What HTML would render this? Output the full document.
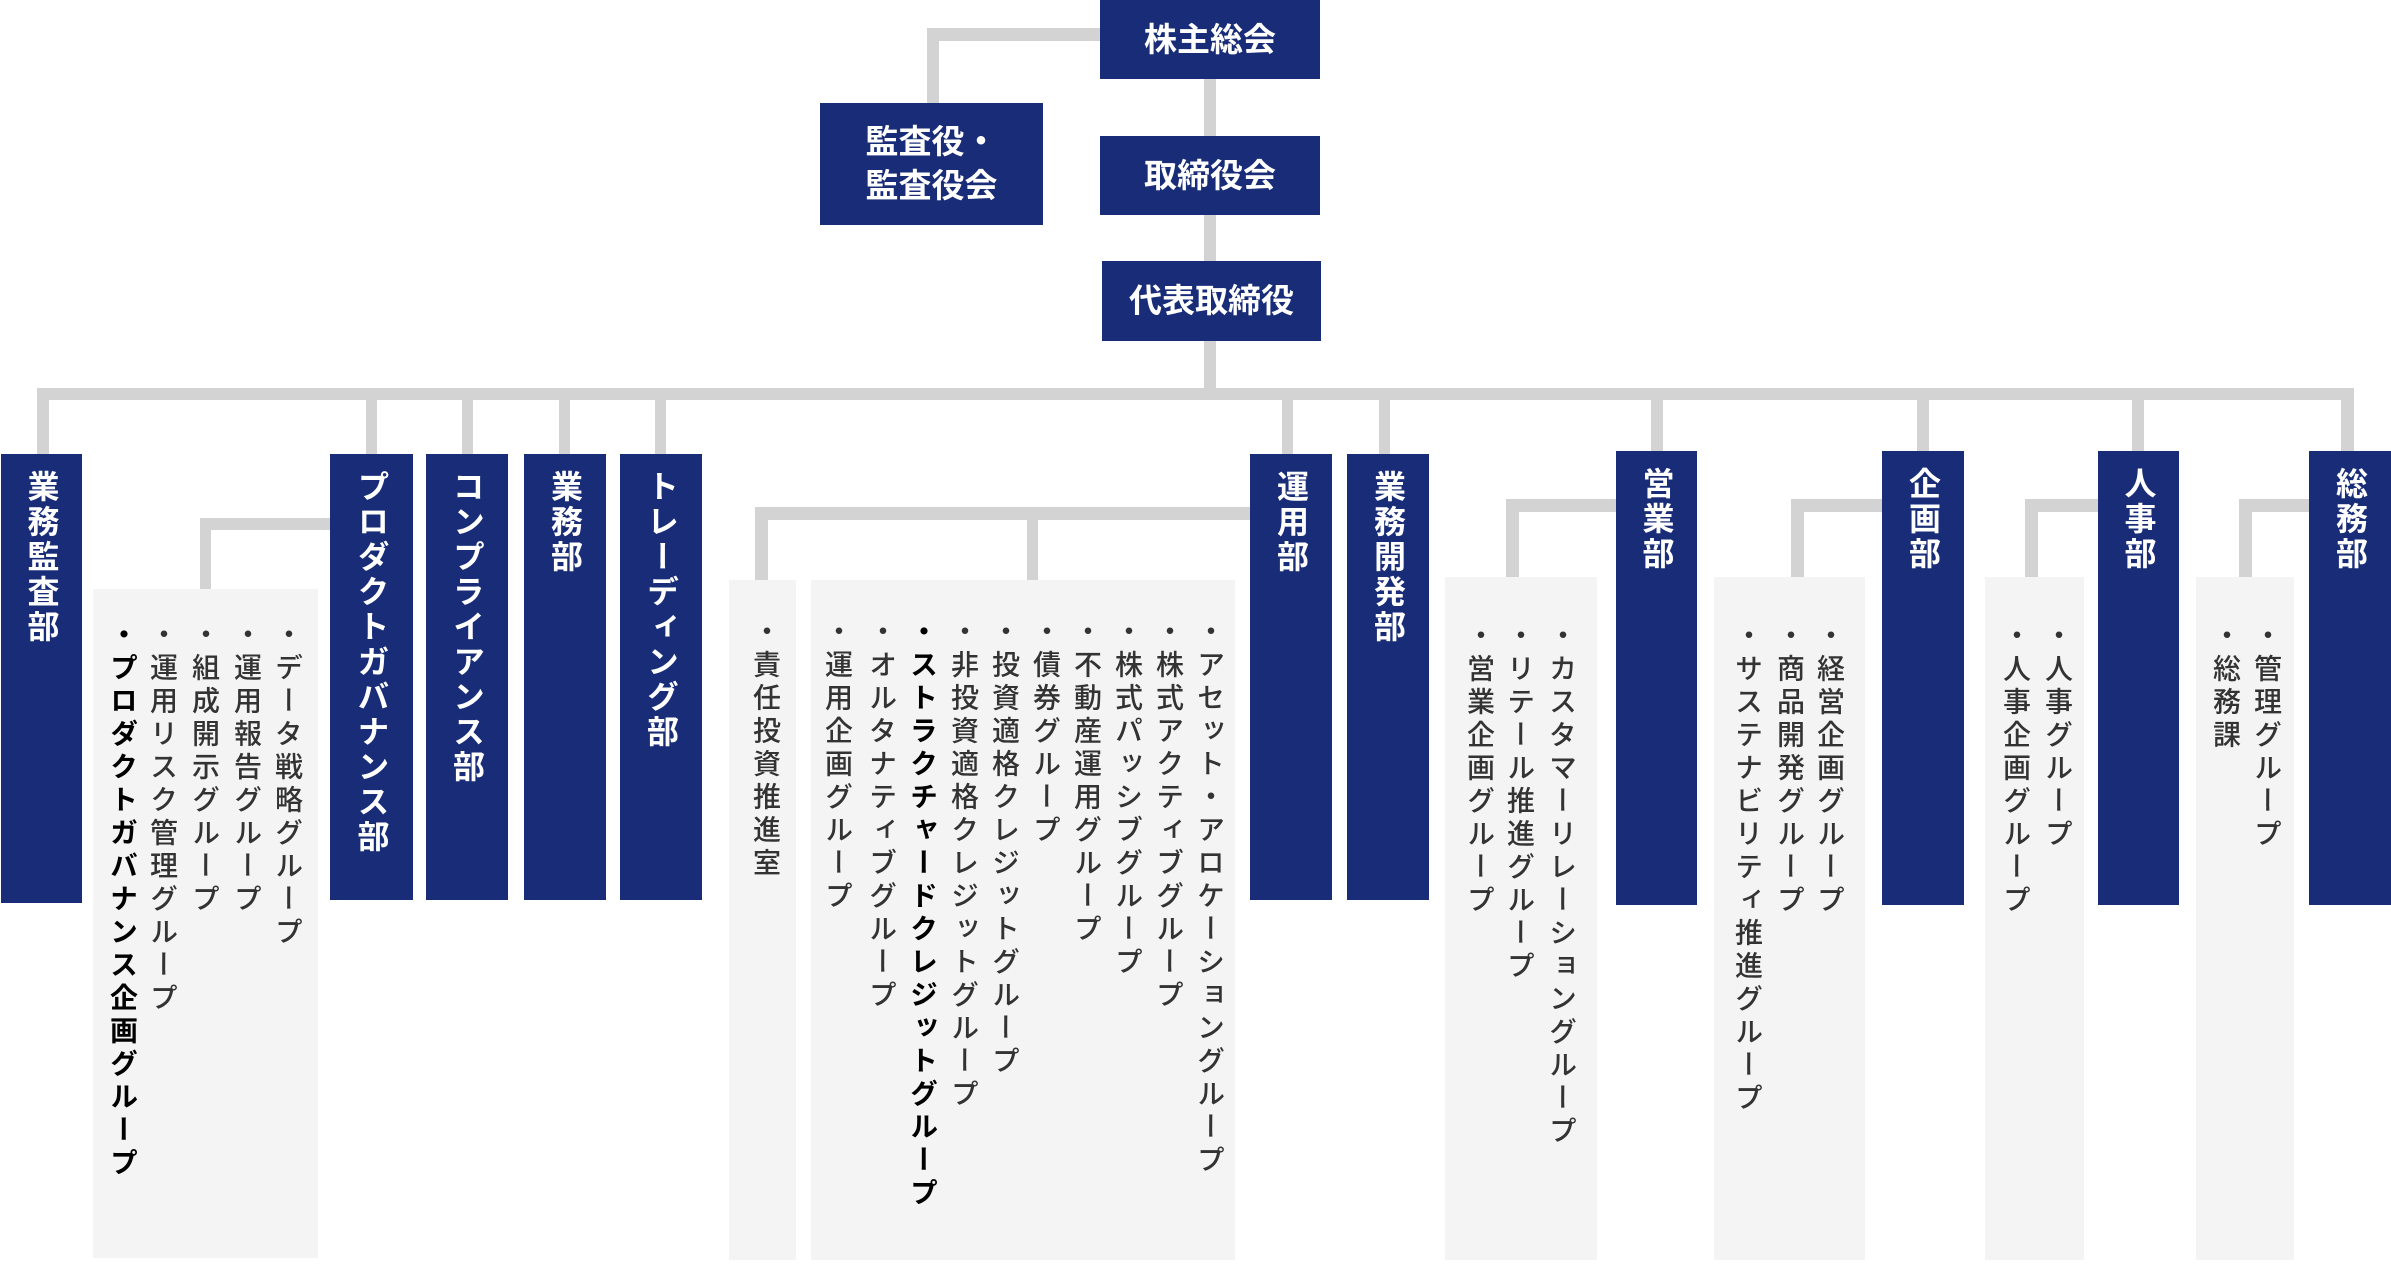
<!DOCTYPE html>
<html><head><meta charset="utf-8"><style>
body{margin:0;width:2391px;height:1265px;background:#fff;position:relative;overflow:hidden;font-family:"Liberation Sans","Noto Sans CJK JP",sans-serif}
.l{position:absolute;background:#d3d3d3}
.b{position:absolute;background:#182c78;color:#fff;font-weight:700}
.t{display:flex;align-items:center;justify-content:center;font-size:33px;line-height:44px;text-align:center}
.d .v{position:absolute;top:16px;left:0;right:0;margin:0 auto;writing-mode:vertical-rl;font-size:32px;letter-spacing:3px;line-height:40px;width:40px}
.p{position:absolute;background:#f4f4f4;top:577px;height:683px}
.i{position:absolute;writing-mode:vertical-rl;font-size:28px;letter-spacing:5px;line-height:37px;width:37px;color:#333;font-weight:500}
.k{color:#000;font-weight:700}
</style></head><body>
<div class="l" style="left:927px;top:28px;width:12px;height:80px"></div>
<div class="l" style="left:927px;top:28px;width:175px;height:13px"></div>
<div class="l" style="left:1204px;top:70px;width:12px;height:330px"></div>
<div class="l" style="left:37px;top:388px;width:2317px;height:12px"></div>
<div class="l" style="left:37px;top:388px;width:12px;height:68px"></div>
<div class="l" style="left:366px;top:388px;width:11px;height:68px"></div>
<div class="l" style="left:462px;top:388px;width:11px;height:68px"></div>
<div class="l" style="left:559px;top:388px;width:11px;height:68px"></div>
<div class="l" style="left:655px;top:388px;width:11px;height:68px"></div>
<div class="l" style="left:1282px;top:388px;width:11px;height:68px"></div>
<div class="l" style="left:1379px;top:388px;width:11px;height:68px"></div>
<div class="l" style="left:1651px;top:388px;width:12px;height:66px"></div>
<div class="l" style="left:1917px;top:388px;width:12px;height:66px"></div>
<div class="l" style="left:2132px;top:388px;width:12px;height:66px"></div>
<div class="l" style="left:2341px;top:388px;width:13px;height:66px"></div>
<div class="l" style="left:200px;top:518px;width:135px;height:12px"></div>
<div class="l" style="left:200px;top:518px;width:11px;height:73px"></div>
<div class="l" style="left:755px;top:507px;width:498px;height:13px"></div>
<div class="l" style="left:755px;top:507px;width:13px;height:75px"></div>
<div class="l" style="left:1027px;top:507px;width:11px;height:75px"></div>
<div class="l" style="left:1506px;top:499px;width:112px;height:13px"></div>
<div class="l" style="left:1506px;top:499px;width:13px;height:80px"></div>
<div class="l" style="left:1791px;top:499px;width:93px;height:13px"></div>
<div class="l" style="left:1791px;top:499px;width:13px;height:80px"></div>
<div class="l" style="left:2025px;top:499px;width:75px;height:13px"></div>
<div class="l" style="left:2025px;top:499px;width:13px;height:80px"></div>
<div class="l" style="left:2239px;top:499px;width:72px;height:13px"></div>
<div class="l" style="left:2239px;top:499px;width:13px;height:80px"></div>
<div class="b t" style="left:1100px;top:0;width:220px;height:79px">株主総会</div>
<div class="b t" style="left:820px;top:103px;width:223px;height:122px">監査役・<br>監査役会</div>
<div class="b t" style="left:1100px;top:136px;width:220px;height:79px">取締役会</div>
<div class="b t" style="left:1102px;top:261px;width:219px;height:80px">代表取締役</div>
<div class="b d" style="left:1px;top:454px;width:81px;height:449px"><div class="v">業務監査部</div></div>
<div class="b d" style="left:330px;top:454px;width:83px;height:446px"><div class="v">プロダクトガバナンス部</div></div>
<div class="b d" style="left:426px;top:454px;width:82px;height:446px"><div class="v">コンプライアンス部</div></div>
<div class="b d" style="left:524px;top:454px;width:82px;height:446px"><div class="v">業務部</div></div>
<div class="b d" style="left:620px;top:454px;width:82px;height:446px"><div class="v">トレーディング部</div></div>
<div class="b d" style="left:1250px;top:454px;width:82px;height:446px"><div class="v">運用部</div></div>
<div class="b d" style="left:1347px;top:454px;width:82px;height:446px"><div class="v">業務開発部</div></div>
<div class="b d" style="left:1616px;top:451px;width:81px;height:454px"><div class="v">営業部</div></div>
<div class="b d" style="left:1882px;top:451px;width:82px;height:454px"><div class="v">企画部</div></div>
<div class="b d" style="left:2098px;top:451px;width:81px;height:454px"><div class="v">人事部</div></div>
<div class="b d" style="left:2309px;top:451px;width:82px;height:454px"><div class="v">総務部</div></div>
<div class="p" style="left:93px;top:589px;width:225px;height:669px"></div>
<div class="p" style="left:729px;top:580px;width:67px;height:680px"></div>
<div class="p" style="left:811px;top:580px;width:424px;height:680px"></div>
<div class="p" style="left:1445px;width:152px"></div>
<div class="p" style="left:1714px;width:151px"></div>
<div class="p" style="left:1985px;width:99px"></div>
<div class="p" style="left:2196px;width:98px"></div>
<div class="i" style="left:269px;top:620px">・データ戦略グループ</div>
<div class="i" style="left:228px;top:620px">・運用報告グループ</div>
<div class="i" style="left:186px;top:620px">・組成開示グループ</div>
<div class="i" style="left:144px;top:620px">・運用リスク管理グループ</div>
<div class="i k" style="left:104px;top:620px">・プロダクトガバナンス企画グループ</div>
<div class="i" style="left:747px;top:617px">・責任投資推進室</div>
<div class="i" style="left:1191px;top:617px">・アセット・アロケーショングループ</div>
<div class="i" style="left:1150px;top:617px">・株式アクティブグループ</div>
<div class="i" style="left:1109px;top:617px">・株式パッシブグループ</div>
<div class="i" style="left:1068px;top:617px">・不動産運用グループ</div>
<div class="i" style="left:1027px;top:617px">・債券グループ</div>
<div class="i" style="left:986px;top:617px">・投資適格クレジットグループ</div>
<div class="i" style="left:945px;top:617px">・非投資適格クレジットグループ</div>
<div class="i k" style="left:904px;top:617px">・ストラクチャードクレジットグループ</div>
<div class="i" style="left:863px;top:617px">・オルタナティブグループ</div>
<div class="i" style="left:819px;top:617px">・運用企画グループ</div>
<div class="i" style="left:1543px;top:621px">・カスタマーリレーショングループ</div>
<div class="i" style="left:1501px;top:621px">・リテール推進グループ</div>
<div class="i" style="left:1461px;top:621px">・営業企画グループ</div>
<div class="i" style="left:1811px;top:621px">・経営企画グループ</div>
<div class="i" style="left:1771px;top:621px">・商品開発グループ</div>
<div class="i" style="left:1729px;top:621px">・サステナビリティ推進グループ</div>
<div class="i" style="left:2039px;top:621px">・人事グループ</div>
<div class="i" style="left:1997px;top:621px">・人事企画グループ</div>
<div class="i" style="left:2248px;top:621px">・管理グループ</div>
<div class="i" style="left:2207px;top:621px">・総務課</div>
</body></html>
